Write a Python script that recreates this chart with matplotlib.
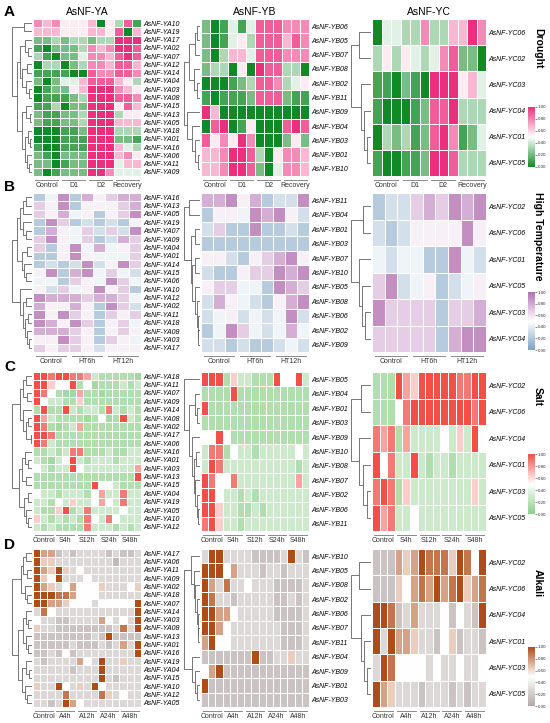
import numpy as np
import matplotlib
matplotlib.use("Agg")
import matplotlib.pyplot as plt
from matplotlib.colors import LinearSegmentedColormap
from matplotlib.cm import ScalarMappable
from matplotlib.colors import Normalize

plt.rcParams['font.family'] = ['Liberation Sans', 'DejaVu Sans']

W, H = 550, 723

# ---------------- data (expression levels read on a 0-9 scale) ----------------
groups_A = ["Control", "D1", "D2", "Recovery"]
groups_B = ["Control", "HT6h", "HT12h"]
groups_C = ["Control", "S4h", "S12h", "S24h", "S48h"]
groups_D = ["Control", "A4h", "A12h", "A24h", "A48h"]

# value of each read level (0-9) on the 0-1 colour scale, per stress
levels_A = [0.0, 0.11, 0.22, 0.33, 0.44, 0.55, 0.67, 0.78, 0.89, 1.0]
levels_B = [0.0, 0.11, 0.22, 0.33, 0.44, 0.55, 0.67, 0.78, 0.89, 1.0]
levels_C = [0.0, 0.05, 0.1, 0.16, 0.28, 0.5, 0.64, 0.76, 0.88, 1.0]
levels_D = [0.0, 0.05, 0.1, 0.16, 0.28, 0.5, 0.64, 0.76, 0.88, 1.0]

# A: Drought
A_ya_genes = ["AsNF-YA10", "AsNF-YA19", "AsNF-YA17", "AsNF-YA02", "AsNF-YA07", "AsNF-YA12", "AsNF-YA14",
              "AsNF-YA04", "AsNF-YA03", "AsNF-YA08", "AsNF-YA15", "AsNF-YA13", "AsNF-YA05", "AsNF-YA18",
              "AsNF-YA01", "AsNF-YA16", "AsNF-YA06", "AsNF-YA11", "AsNF-YA09"]
A_ya = [[7, 6, 7, 5, 5, 5, 6, 0, 5, 3, 8, 1],
        [6, 6, 6, 5, 5, 5, 6, 6, 5, 8, 0, 6],
        [2, 2, 3, 2, 3, 3, 2, 3, 3, 9, 9, 9],
        [1, 0, 2, 2, 2, 3, 7, 6, 7, 9, 9, 8],
        [3, 1, 0, 2, 2, 4, 7, 7, 6, 8, 9, 8],
        [0, 3, 3, 0, 2, 3, 7, 7, 6, 8, 8, 6],
        [1, 1, 1, 1, 0, 0, 8, 7, 7, 8, 8, 7],
        [2, 0, 2, 4, 4, 6, 8, 8, 8, 6, 5, 3],
        [0, 1, 2, 2, 5, 6, 9, 9, 9, 7, 6, 5],
        [0, 1, 1, 1, 2, 3, 9, 9, 9, 8, 8, 7],
        [1, 1, 3, 0, 2, 2, 9, 9, 9, 5, 8, 6],
        [2, 1, 1, 2, 2, 3, 9, 9, 9, 3, 5, 5],
        [2, 1, 1, 2, 2, 3, 9, 9, 9, 6, 6, 6],
        [0, 0, 0, 1, 1, 2, 9, 9, 9, 3, 3, 3],
        [0, 0, 0, 1, 1, 1, 9, 9, 9, 2, 2, 1],
        [1, 0, 0, 1, 1, 1, 9, 9, 9, 6, 4, 3],
        [2, 1, 0, 2, 2, 2, 9, 9, 9, 6, 7, 5],
        [2, 2, 0, 1, 2, 2, 9, 9, 9, 4, 6, 6],
        [2, 0, 1, 2, 2, 2, 9, 9, 7, 4, 4, 4]]
A_ya_tree = ((0, 1, .4),
             (((2, (3, 4, .2), .35), ((5, 6, .25), (7, (8, 9, .15), .3), .5), .6),
              ((10, (11, 12, .1), .3), ((13, (14, 15, .12), .2), (16, (17, 18, .15), .25), .35), .5), .75), 1.0)

A_yb_genes = ["AsNF-YB06", "AsNF-YB05", "AsNF-YB07", "AsNF-YB08", "AsNF-YB02", "AsNF-YB11",
              "AsNF-YB09", "AsNF-YB04", "AsNF-YB03", "AsNF-YB01", "AsNF-YB10"]
A_yb = [[2, 0, 1, 4, 1, 4, 8, 8, 8, 7, 7, 7],
        [2, 0, 1, 4, 5, 3, 8, 8, 8, 6, 8, 7],
        [2, 0, 3, 6, 6, 4, 8, 8, 8, 7, 7, 7],
        [2, 3, 3, 0, 5, 0, 9, 8, 8, 3, 3, 0],
        [0, 0, 0, 1, 2, 3, 8, 8, 7, 3, 4, 5],
        [1, 0, 1, 1, 1, 2, 8, 8, 8, 2, 1, 1],
        [9, 6, 0, 0, 0, 0, 0, 0, 0, 0, 0, 0],
        [0, 8, 9, 0, 1, 5, 0, 0, 0, 8, 9, 8],
        [8, 5, 7, 5, 9, 7, 0, 0, 0, 2, 5, 2],
        [6, 6, 7, 9, 9, 8, 3, 0, 5, 7, 7, 6],
        [6, 6, 7, 9, 9, 8, 2, 0, 4, 7, 7, 6]]
A_yb_tree = ((((0, 1, .2), 2, .35), (3, (4, 5, .2), .4), .7),
             (6, (7, (8, (9, 10, .15), .3), .5), .8), 1.0)

A_yc_genes = ["AsNF-YC06", "AsNF-YC02", "AsNF-YC03", "AsNF-YC04", "AsNF-YC01", "AsNF-YC05"]
A_yc = [[0, 4, 4, 3, 3, 7, 3, 3, 6, 6, 9, 7],
        [3, 5, 3, 5, 4, 3, 4, 7, 8, 2, 2, 0],
        [1, 1, 0, 2, 1, 0, 9, 9, 9, 5, 6, 4],
        [1, 0, 0, 0, 1, 2, 8, 8, 9, 3, 3, 3],
        [0, 3, 2, 3, 1, 2, 8, 9, 7, 1, 2, 4],
        [1, 0, 0, 1, 1, 2, 9, 9, 8, 3, 3, 3]]
A_yc_tree = ((0, 1, .6), (2, (3, (4, 5, .2), .35), .5), 1.0)

# B: High temperature
B_ya_genes = ["AsNF-YA16", "AsNF-YA13", "AsNF-YA05", "AsNF-YA19", "AsNF-YA07", "AsNF-YA09", "AsNF-YA04",
              "AsNF-YA01", "AsNF-YA14", "AsNF-YA15", "AsNF-YA06", "AsNF-YA10", "AsNF-YA12", "AsNF-YA02",
              "AsNF-YA11", "AsNF-YA18", "AsNF-YA08", "AsNF-YA03", "AsNF-YA17"]
B_ya = [[2, 4, 8, 2, 7, 5, 6, 7, 7],
        [6, 5, 8, 2, 5, 5, 5, 6, 7],
        [6, 5, 7, 4, 5, 2, 5, 6, 8],
        [2, 8, 6, 2, 3, 2, 3, 2, 5],
        [2, 7, 5, 4, 6, 3, 6, 3, 8],
        [6, 8, 5, 4, 6, 2, 3, 7, 6],
        [6, 2, 5, 8, 4, 7, 4, 5, 6],
        [2, 2, 5, 8, 5, 4, 4, 4, 6],
        [2, 3, 2, 3, 8, 3, 5, 8, 6],
        [5, 8, 2, 7, 8, 4, 6, 4, 3],
        [4, 4, 2, 6, 5, 4, 8, 6, 4],
        [5, 3, 6, 4, 5, 8, 5, 6, 2],
        [8, 7, 7, 7, 6, 7, 7, 6, 4],
        [7, 5, 5, 7, 5, 2, 8, 6, 3],
        [8, 5, 8, 6, 5, 2, 6, 5, 6],
        [8, 7, 5, 8, 6, 2, 5, 6, 4],
        [7, 7, 7, 6, 5, 2, 5, 6, 5],
        [5, 5, 8, 6, 5, 2, 6, 5, 4],
        [6, 5, 6, 6, 5, 3, 5, 5, 5]]
B_ya_tree = (((((0, 1, .3), 2, .45), (3, (4, 5, .3), .45), .6),
              ((6, 7, .25), (8, (9, 10, .3), .4), .5), .75),
             (11, ((12, 13, .3), ((14, 15, .2), (16, (17, 18, .15), .25), .35), .45), .6), 1.0)

B_yb_genes = ["AsNF-YB11", "AsNF-YB04", "AsNF-YB01", "AsNF-YB03", "AsNF-YB07", "AsNF-YB10",
              "AsNF-YB05", "AsNF-YB08", "AsNF-YB06", "AsNF-YB02", "AsNF-YB09"]
B_yb = [[7, 7, 8, 5, 7, 2, 3, 3, 8],
        [2, 5, 5, 4, 8, 7, 8, 5, 3],
        [3, 6, 2, 2, 8, 2, 2, 3, 2],
        [2, 2, 2, 2, 2, 2, 2, 2, 2],
        [5, 5, 3, 2, 5, 6, 7, 8, 5],
        [3, 2, 2, 5, 6, 6, 8, 7, 8],
        [5, 6, 6, 4, 4, 2, 8, 7, 6],
        [3, 7, 5, 4, 3, 2, 5, 7, 8],
        [3, 4, 5, 3, 4, 3, 4, 8, 3],
        [2, 4, 8, 6, 4, 3, 4, 7, 4],
        [3, 3, 2, 3, 2, 2, 3, 4, 3]]
B_yb_tree = ((0, 1, .7),
             ((2, 3, .3), ((4, 5, .3), (6, (7, (8, (9, 10, .1), .15), .2), .3), .5), .6), 1.0)

B_yc_genes = ["AsNF-YC02", "AsNF-YC06", "AsNF-YC01", "AsNF-YC05", "AsNF-YC03", "AsNF-YC04"]
B_yc = [[2, 3, 3, 6, 7, 6, 8, 7, 8],
        [3, 2, 3, 5, 5, 5, 5, 8, 5],
        [4, 3, 4, 4, 2, 2, 8, 4, 3],
        [6, 8, 3, 4, 5, 2, 3, 4, 5],
        [8, 6, 6, 6, 6, 2, 6, 6, 7],
        [6, 6, 6, 6, 6, 2, 7, 8, 8]]
B_yc_tree = ((0, 1, .4), (2, (3, (4, 5, .3), .45), .6), 1.0)

# C: Salt
C_ya_genes = ["AsNF-YA18", "AsNF-YA11", "AsNF-YA07", "AsNF-YA09", "AsNF-YA14", "AsNF-YA08", "AsNF-YA02",
              "AsNF-YA17", "AsNF-YA06", "AsNF-YA16", "AsNF-YA01", "AsNF-YA03", "AsNF-YA13", "AsNF-YA15",
              "AsNF-YA04", "AsNF-YA19", "AsNF-YA05", "AsNF-YA10", "AsNF-YA12"]
C_ya = [[9, 9, 8, 9, 9, 8, 8, 7, 4, 3, 3, 3, 3, 3, 2],
        [9, 9, 6, 5, 5, 9, 3, 5, 2, 3, 3, 3, 4, 3, 4],
        [9, 8, 5, 3, 2, 2, 7, 3, 3, 2, 3, 3, 3, 3, 3],
        [9, 5, 4, 4, 3, 3, 6, 3, 3, 3, 3, 3, 3, 3, 3],
        [3, 9, 3, 3, 9, 4, 3, 4, 4, 3, 8, 4, 3, 4, 3],
        [9, 7, 4, 3, 3, 3, 3, 2, 3, 5, 2, 3, 9, 4, 3],
        [9, 8, 3, 2, 3, 4, 7, 3, 3, 3, 3, 3, 3, 3, 3],
        [9, 9, 8, 3, 3, 3, 3, 3, 3, 3, 3, 3, 3, 3, 3],
        [9, 8, 4, 3, 3, 3, 3, 3, 3, 3, 3, 3, 3, 3, 3],
        [3, 3, 4, 3, 4, 8, 8, 3, 3, 3, 4, 3, 3, 4, 4],
        [4, 3, 2, 4, 5, 9, 4, 3, 4, 4, 4, 3, 4, 4, 4],
        [5, 4, 3, 4, 4, 9, 5, 4, 4, 4, 4, 4, 4, 4, 7],
        [3, 3, 3, 3, 3, 3, 3, 3, 3, 3, 3, 3, 3, 3, 9],
        [3, 3, 3, 3, 3, 3, 3, 3, 9, 5, 5, 4, 3, 3, 3],
        [5, 4, 4, 3, 4, 4, 4, 3, 5, 7, 4, 4, 8, 4, 4],
        [4, 4, 3, 5, 4, 6, 4, 4, 5, 7, 5, 4, 8, 4, 4],
        [4, 3, 3, 6, 9, 3, 4, 8, 4, 4, 4, 4, 5, 4, 4],
        [6, 4, 3, 4, 3, 4, 3, 8, 5, 4, 8, 5, 4, 4, 4],
        [4, 3, 4, 3, 3, 3, 3, 8, 4, 4, 4, 3, 4, 3, 4]]
C_ya_tree = ((((0, 1, .3), (2, 3, .25), .45), (4, ((5, 6, .2), (7, 8, .05), .3), .45), .6),
             (((9, (10, 11, .2), .35), (12, 13, .3), .5),
              ((14, 15, .2), (16, (17, 18, .2), .3), .4), .65), 1.0)

C_yb_genes = ["AsNF-YB05", "AsNF-YB04", "AsNF-YB01", "AsNF-YB03", "AsNF-YB09", "AsNF-YB10",
              "AsNF-YB08", "AsNF-YB07", "AsNF-YB02", "AsNF-YB06", "AsNF-YB11"]
C_yb = [[9, 9, 9, 3, 6, 4, 4, 3, 3, 3, 9, 5, 5, 9, 4],
        [3, 3, 3, 3, 9, 3, 3, 3, 3, 3, 3, 3, 3, 3, 3],
        [9, 3, 3, 3, 3, 3, 3, 3, 3, 3, 3, 3, 3, 3, 3],
        [3, 3, 3, 3, 3, 3, 3, 3, 3, 3, 3, 3, 3, 3, 3],
        [5, 5, 9, 5, 3, 3, 3, 3, 3, 3, 3, 3, 3, 3, 3],
        [4, 8, 8, 3, 5, 4, 4, 3, 4, 4, 4, 4, 4, 5, 4],
        [4, 9, 8, 4, 4, 4, 4, 4, 4, 4, 4, 4, 4, 3, 4],
        [9, 8, 5, 5, 8, 4, 4, 4, 4, 4, 4, 4, 4, 7, 4],
        [9, 9, 5, 4, 4, 3, 4, 3, 4, 4, 4, 4, 4, 4, 4],
        [9, 9, 6, 4, 4, 3, 3, 4, 3, 4, 4, 4, 4, 4, 4],
        [8, 9, 6, 4, 4, 3, 4, 4, 4, 4, 4, 4, 4, 4, 4]]
C_yb_tree = (0, ((1, (2, 3, .2), .35),
                 (4, ((5, 6, .25), (7, (8, (9, 10, .1), .2), .3), .4), .5), .7), 1.0)

C_yc_genes = ["AsNF-YC02", "AsNF-YC06", "AsNF-YC04", "AsNF-YC01", "AsNF-YC03", "AsNF-YC05"]
C_yc = [[3, 3, 3, 9, 7, 6, 9, 9, 9, 9, 9, 8, 8, 9, 9],
        [3, 3, 3, 5, 8, 9, 9, 9, 9, 9, 9, 9, 9, 8, 9],
        [8, 7, 8, 3, 7, 4, 4, 4, 4, 5, 4, 6, 4, 9, 5],
        [9, 5, 8, 4, 4, 9, 4, 3, 4, 4, 3, 4, 4, 4, 4],
        [8, 9, 8, 3, 6, 4, 4, 4, 4, 4, 4, 4, 4, 6, 4],
        [9, 7, 8, 4, 4, 5, 4, 4, 4, 4, 4, 4, 4, 4, 4]]
C_yc_tree = ((0, 1, .5), (2, (3, (4, 5, .2), .4), .6), 1.0)

# D: Alkali
D_ya_genes = ["AsNF-YA17", "AsNF-YA06", "AsNF-YA11", "AsNF-YA09", "AsNF-YA02", "AsNF-YA18", "AsNF-YA07",
              "AsNF-YA14", "AsNF-YA03", "AsNF-YA08", "AsNF-YA13", "AsNF-YA01", "AsNF-YA16", "AsNF-YA19",
              "AsNF-YA04", "AsNF-YA15", "AsNF-YA10", "AsNF-YA12", "AsNF-YA05"]
D_ya = [[9, 7, 7, 3, 4, 3, 4, 4, 4, 4, 3, 4, 3, 3, 4],
        [9, 6, 6, 4, 4, 4, 4, 4, 4, 4, 4, 2, 4, 4, 4],
        [9, 7, 6, 9, 6, 4, 5, 4, 4, 4, 4, 4, 4, 4, 4],
        [9, 6, 5, 9, 4, 4, 4, 5, 4, 4, 4, 4, 4, 4, 4],
        [9, 7, 6, 4, 5, 7, 5, 5, 5, 6, 4, 4, 4, 5, 6],
        [9, 9, 9, 8, 8, 7, 5, 5, 5, 4, 4, 4, 4, 4, 4],
        [9, 9, 7, 7, 6, 5, 5, 5, 4, 5, 5, 5, 5, 5, 9],
        [4, 8, 5, 4, 4, 4, 4, 4, 4, 4, 4, 4, 4, 4, 9],
        [5, 4, 4, 3, 3, 4, 4, 4, 4, 7, 5, 4, 5, 4, 9],
        [6, 4, 4, 3, 3, 3, 3, 3, 3, 3, 3, 4, 8, 4, 9],
        [3, 3, 3, 3, 3, 3, 3, 3, 4, 3, 9, 3, 3, 3, 3],
        [3, 3, 3, 3, 3, 4, 3, 3, 3, 4, 3, 4, 7, 4, 9],
        [3, 3, 4, 3, 5, 3, 4, 4, 4, 4, 4, 4, 4, 4, 9],
        [4, 3, 4, 4, 4, 4, 7, 5, 4, 9, 4, 4, 6, 4, 4],
        [4, 4, 4, 4, 4, 3, 4, 4, 4, 9, 4, 4, 4, 4, 4],
        [4, 4, 4, 4, 4, 4, 4, 4, 4, 9, 4, 3, 4, 4, 4],
        [6, 4, 4, 9, 5, 4, 6, 4, 9, 5, 4, 4, 4, 4, 4],
        [4, 4, 4, 4, 8, 4, 4, 4, 4, 8, 6, 4, 5, 4, 4],
        [4, 4, 3, 4, 9, 7, 5, 4, 4, 4, 4, 4, 4, 4, 4]]
D_ya_tree = ((((0, 1, .3), (2, 3, .25), .45), (4, (5, 6, .25), .35), .55),
             (((7, (8, 9, .2), .3), (10, (11, 12, .2), .3), .45),
              ((13, (14, 15, .15), .3), (16, (17, 18, .25), .35), .5), .7), 1.0)

D_yb_genes = ["AsNF-YB10", "AsNF-YB05", "AsNF-YB08", "AsNF-YB02", "AsNF-YB06", "AsNF-YB07",
              "AsNF-YB11", "AsNF-YB04", "AsNF-YB09", "AsNF-YB01", "AsNF-YB03"]
D_yb = [[4, 9, 9, 4, 4, 4, 4, 3, 3, 3, 3, 4, 9, 4, 3],
        [9, 9, 9, 5, 7, 4, 4, 4, 3, 4, 4, 3, 4, 4, 4],
        [9, 7, 4, 8, 4, 4, 5, 4, 4, 4, 3, 3, 3, 3, 4],
        [9, 8, 4, 4, 3, 4, 4, 4, 4, 4, 3, 3, 4, 3, 4],
        [9, 9, 7, 7, 5, 4, 4, 4, 4, 4, 3, 3, 3, 3, 4],
        [9, 9, 7, 5, 4, 4, 4, 4, 4, 4, 4, 3, 3, 3, 4],
        [7, 9, 5, 5, 4, 4, 4, 4, 4, 4, 4, 3, 3, 3, 4],
        [3, 3, 3, 3, 3, 3, 3, 9, 3, 3, 4, 4, 6, 4, 4],
        [5, 7, 9, 3, 3, 3, 3, 3, 3, 3, 3, 3, 3, 3, 3],
        [9, 3, 3, 3, 3, 3, 3, 3, 3, 3, 3, 3, 3, 3, 3],
        [3, 3, 3, 3, 3, 3, 3, 3, 3, 3, 3, 3, 3, 3, 3]]
D_yb_tree = ((0, (1, (2, (3, (4, (5, 6, .1), .15), .2), .3), .4), .6),
             (7, (8, (9, 10, .2), .3), .5), 1.0)

D_yc_genes = ["AsNF-YC02", "AsNF-YC06", "AsNF-YC04", "AsNF-YC01", "AsNF-YC03", "AsNF-YC05"]
D_yc = [[3, 3, 3, 7, 6, 7, 9, 8, 8, 8, 6, 9, 8, 5, 9],
        [3, 3, 3, 6, 5, 7, 8, 7, 9, 7, 8, 9, 6, 7, 8],
        [9, 9, 8, 3, 4, 7, 4, 4, 4, 5, 3, 5, 4, 3, 9],
        [9, 4, 9, 7, 7, 6, 4, 4, 3, 5, 6, 3, 4, 4, 3],
        [4, 9, 8, 5, 5, 5, 5, 4, 5, 4, 4, 5, 4, 4, 5],
        [9, 7, 6, 4, 4, 4, 3, 4, 4, 4, 3, 4, 3, 4, 4]]
D_yc_tree = ((0, 1, .6), (2, (3, (4, 5, .2), .35), .5), 1.0)

row_titles = ["Drought", "High Temperature", "Salt", "Alkali"]
row_letters = ["A", "B", "C", "D"]
col_titles = ["AsNF-YA", "AsNF-YB", "AsNF-YC"]

# ---------------- styling ----------------
cmaps = [
    LinearSegmentedColormap.from_list("drought", ["#108a26", "#ffffff", "#ec2f7c"]),
    LinearSegmentedColormap.from_list("heat", ["#7da2c3", "#ffffff", "#b26fb2"]),
    LinearSegmentedColormap.from_list("salt", ["#8ccf89", "#ffffff", "#f14f48"]),
    LinearSegmentedColormap.from_list("alkali", ["#b3a8a7", "#ffffff", "#b04c18"]),
]

rows = [
    (groups_A, levels_A, [(A_ya_genes, A_ya, A_ya_tree), (A_yb_genes, A_yb, A_yb_tree), (A_yc_genes, A_yc, A_yc_tree)]),
    (groups_B, levels_B, [(B_ya_genes, B_ya, B_ya_tree), (B_yb_genes, B_yb, B_yb_tree), (B_yc_genes, B_yc, B_yc_tree)]),
    (groups_C, levels_C, [(C_ya_genes, C_ya, C_ya_tree), (C_yb_genes, C_yb, C_yb_tree), (C_yc_genes, C_yc, C_yc_tree)]),
    (groups_D, levels_D, [(D_ya_genes, D_ya, D_ya_tree), (D_yb_genes, D_yb, D_yb_tree), (D_yc_genes, D_yc, D_yc_tree)]),
]

row_y = [(19, 176), (193, 352), (372, 531), (549, 707)]
# (dendro x0, dendro x1, heat x0, heat x1)
col_x = [(12, 32, 33, 141), (184, 200, 201, 309), (351, 371, 372, 486)]
letter_y = [12, 187, 367, 545]
side_y = [48, 236, 397, 583]
cbar_y = [(107, 167), (292, 350), (454, 514), (647, 706)]

fig = plt.figure(figsize=(W / 100, H / 100), dpi=100)


def add_ax(x0, y0, x1, y1):
    return fig.add_axes([x0 / W, 1 - y1 / H, (x1 - x0) / W, (y1 - y0) / H])


def draw_tree(ax, node):
    if isinstance(node, int):
        return node + 0.5, 0.0
    left, right, h = node
    yl, hl = draw_tree(ax, left)
    yr, hr = draw_tree(ax, right)
    ax.plot([hl, h, h, hr], [yl, yl, yr, yr], color="#5f5f5f", lw=0.6, solid_capstyle="butt")
    return (yl + yr) / 2, h


for r, (groups, levels, panels) in enumerate(rows):
    y0, y1 = row_y[r]
    cmap = cmaps[r]
    lv = np.array(levels)
    for c, (genes, vals, tree) in enumerate(panels):
        dx0, dx1, hx0, hx1 = col_x[c]
        data = lv[np.array(vals)]
        n, m = data.shape
        ax = add_ax(hx0, y0, hx1, y1)
        ax.pcolormesh(data, cmap=cmap, vmin=0, vmax=1, edgecolors="white", linewidth=0.55)
        ax.set_xlim(0, m)
        ax.set_ylim(n, 0)
        for s in ax.spines.values():
            s.set_visible(False)
        ax.set_xticks([])
        ax.set_yticks(np.arange(n) + 0.5)
        ax.set_yticklabels(genes, fontstyle="italic", fontsize=5)
        ax.yaxis.tick_right()
        ax.tick_params(axis="y", length=0, pad=2)
        # group brackets and labels below the heatmap
        k = m // len(groups)
        hpx = y1 - y0
        tr = ax.get_xaxis_transform()
        for g, name in enumerate(groups):
            ax.plot([g * k + 0.25, (g + 1) * k - 0.25], [-4 / hpx, -4 / hpx],
                    transform=tr, color="#8a8a8a", lw=0.7, clip_on=False)
            ax.text((g + 0.5) * k, -9.5 / hpx, name, transform=tr,
                    ha="center", va="center", fontsize=5, color="#333333")
        if r == 0:
            ax.text(0.5, 1 + 2 / hpx, col_titles[c], transform=ax.transAxes, ha="center",
                    va="bottom", fontsize=7.5)
        # dendrogram
        dax = add_ax(dx0, y0, dx1, y1)
        draw_tree(dax, tree)
        dax.set_ylim(n, 0)
        dax.set_xlim(1.02, 0)
        dax.axis("off")
    # colorbar
    cb0, cb1 = cbar_y[r]
    cax = add_ax(528, cb0, 535, cb1)
    cb = fig.colorbar(ScalarMappable(norm=Normalize(0, 1), cmap=cmap), cax=cax,
                      ticks=[0, 0.2, 0.4, 0.6, 0.8, 1.0], format="%.2f")
    cb.outline.set_visible(False)
    cb.ax.tick_params(labelsize=3.2, length=1.2, width=0.4, pad=0.8, colors="#333333")
    # side title
    fig.text(538 / W, 1 - side_y[r] / H, row_titles[r], rotation=-90, ha="center", va="center",
             fontsize=7.5, fontweight="bold")
    fig.text(4 / W, 1 - letter_y[r] / H, row_letters[r], ha="left", va="center",
             fontsize=11, fontweight="bold")

fig.savefig("out.png", dpi=100)
